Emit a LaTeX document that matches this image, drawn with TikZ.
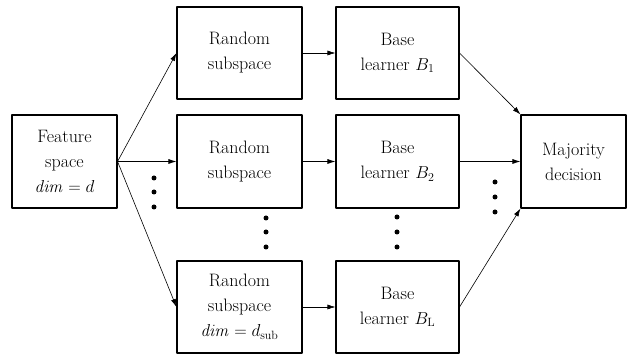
\documentclass[tikz,border=0pt]{standalone}
\usetikzlibrary{arrows.meta}
\tikzset{block/.style={draw=black,line width=1.1pt,align=center,inner sep=0pt,
   font=\fontsize{18}{25}\selectfont},
 arr/.style={line width=0.6pt,-{Latex[length=8pt,width=5pt]}},
 dotmark/.style={circle,fill=black,inner sep=0pt,minimum size=5pt},
 every picture/.style={line join=round}}

\begin{document}
\begin{tikzpicture}[x=1pt,y=1pt]
\useasboundingbox (0,0) rectangle (630,356);
\node[block,minimum width=105pt,minimum height=93pt] (feat) at (64.5,194.5) {Feature\\space\\$\mathit{dim}=d$};
\node[block,minimum width=125pt,minimum height=92pt] (rs1) at (239.5,303) {Random\\subspace};
\node[block,minimum width=125pt,minimum height=93pt] (rs2) at (239.5,194.5) {Random\\subspace};
\node[block,minimum width=125pt,minimum height=92pt] (rsL) at (239.5,49) {Random\\subspace\\$\mathit{dim}=d_{\mathrm{sub}}$};
\node[block,minimum width=123pt,minimum height=92pt] (bl1) at (397.5,303) {Base\\learner $B_1$};
\node[block,minimum width=123pt,minimum height=93pt] (bl2) at (397.5,194.5) {Base\\learner $B_2$};
\node[block,minimum width=123pt,minimum height=92pt] (blL) at (397.5,49) {Base\\learner $B_{\mathrm{L}}$};
\node[block,minimum width=105pt,minimum height=93pt] (maj) at (573.5,194.5) {Majority\\decision};
% vertical dots
\node[dotmark] (dl1) at (154,178) {};
\node[dotmark] (dl2) at (154,164) {};
\node[dotmark] (dl3) at (154,149) {};
\node[dotmark] (dr1) at (266,138) {};
\node[dotmark] (dr2) at (266,124) {};
\node[dotmark] (dr3) at (266,109) {};
\node[dotmark] (db1) at (397,139) {};
\node[dotmark] (db2) at (397,124) {};
\node[dotmark] (db3) at (397,109) {};
\node[dotmark] (dm1) at (495,174) {};
\node[dotmark] (dm2) at (495,159) {};
\node[dotmark] (dm3) at (495,144) {};
% connectors
\draw[arr] (feat.east) -- (rs1.west);
\draw[arr] (feat.east) -- (rs2.west);
\draw[arr] (feat.east) -- (rsL.west);
\draw[arr] (rs1.east) -- (bl1.west);
\draw[arr] (rs2.east) -- (bl2.west);
\draw[arr] (rsL.east) -- (blL.west);
\draw[arr] (bl1.east) -- (maj.north west);
\draw[arr] (bl2.east) -- (maj.west);
\draw[arr] (blL.east) -- (maj.south west);
\end{tikzpicture}
\end{document}
